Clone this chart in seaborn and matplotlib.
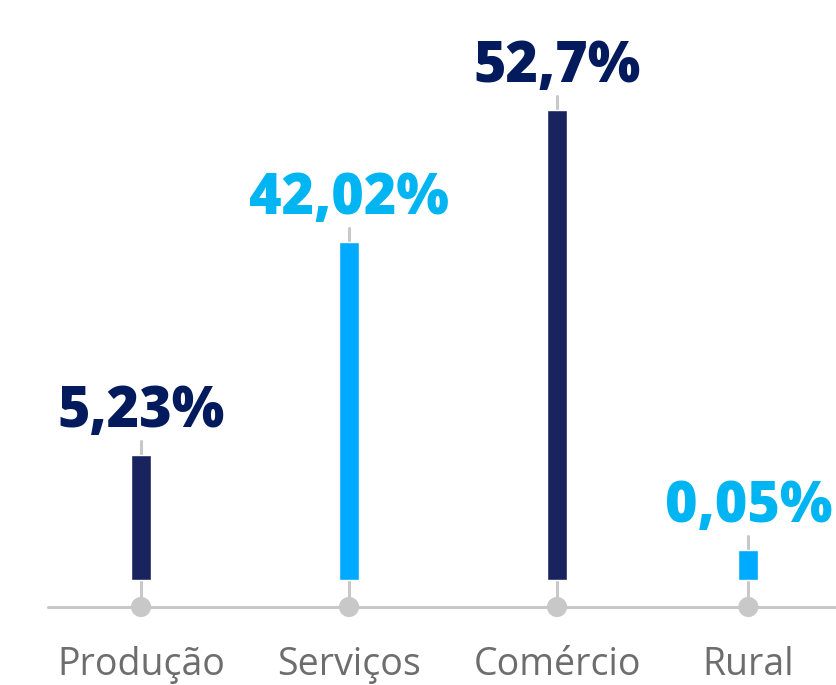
import matplotlib
matplotlib.use("Agg")
import matplotlib.pyplot as plt
import seaborn as sns
import pandas as pd

# Dados do gráfico
setores = ["Produção", "Serviços", "Comércio", "Rural"]
rotulos = ["5,23%", "42,02%", "52,7%", "0,05%"]
# alturas das barras como aparecem na imagem (não proporcionais aos valores)
alturas = [125, 338, 470, 30]
cores_barra = ["#19235e", "#00aaff", "#19235e", "#00aaff"]
cores_texto = ["#031b5c", "#00b5f1", "#031b5c", "#00b5f1"]

# posições horizontais dos setores
posicoes = [0, 1, 2, 2.92]

df = pd.DataFrame({"setor": setores, "pos": posicoes, "altura": alturas})

sns.set_style("white")
plt.rcParams["font.family"] = ["Open Sans", "DejaVu Sans"]

fig = plt.figure(figsize=(8.36, 6.85), dpi=100)
ax = fig.add_axes([0, 0, 1, 1])

# 1 unidade x = 208 px, 1 unidade y = 1 px
ax.set_xlim(-141 / 208, (836 - 141) / 208)
ax.set_ylim(-105, 580)

cinza = "#c8c8c8"
eixo_y = -27

# linha de base
ax.plot([-93 / 208, (836 - 141) / 208], [eixo_y, eixo_y], color=cinza, lw=2.2, zorder=1)

# hastes cinzas atrás das barras
for p, h in zip(posicoes, alturas):
    ax.plot([p, p], [eixo_y, h + 14], color=cinza, lw=2.2, zorder=1)

sns.barplot(data=df, x="pos", y="altura", hue="setor", palette=cores_barra,
            native_scale=True, width=0.097 / 0.92, legend=False, ax=ax,
            saturation=1, zorder=2)

# círculos na linha de base
sns.scatterplot(x=posicoes, y=[eixo_y] * len(posicoes), color=cinza, s=210,
                edgecolor="none", ax=ax, zorder=3)

# rótulos de valor
for p, h, txt, c in zip(posicoes, alturas, rotulos, cores_texto):
    ax.text(p, h + 28, txt, ha="center", va="baseline", fontsize=40,
            fontweight="heavy", color=c)

# nomes dos setores
for p, s in zip(posicoes, setores):
    ax.text(p, -95, s, ha="center", va="baseline", fontsize=27, color="#6d6d6d")

ax.set_xlabel("")
ax.set_ylabel("")
ax.axis("off")

fig.savefig("out.png", dpi=100)
